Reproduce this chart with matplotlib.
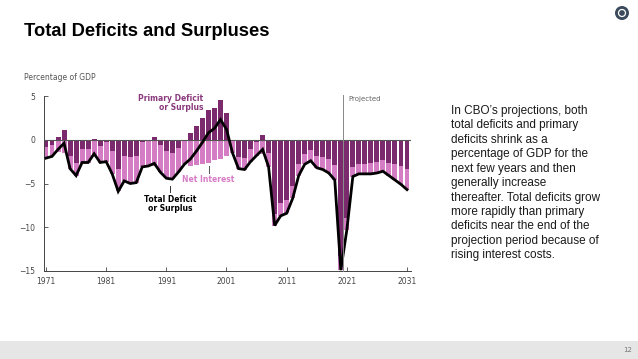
import matplotlib.pyplot as plt
from matplotlib.patches import Ellipse, Rectangle

years = list(range(1971, 2032))

# total deficit (-) or surplus (+), percent of GDP
total = [-2.1, -1.9, -1.1, -0.4, -3.3, -4.1, -2.6, -2.6, -1.6, -2.6,
         -2.5, -3.9, -5.9, -4.7, -5.0, -4.9, -3.1, -3.0, -2.7, -3.7,
         -4.4, -4.5, -3.7, -2.8, -2.2, -1.3, -0.3, 0.8, 1.3, 2.3,
         1.2, -1.5, -3.3, -3.4, -2.5, -1.8, -1.1, -3.1, -9.8, -8.7,
         -8.4, -6.7, -4.1, -2.8, -2.4, -3.2, -3.4, -3.8, -4.6, -14.9,
         -10.3, -4.2, -3.9, -3.9, -3.9, -3.8, -3.6, -4.1, -4.6, -5.1,
         -5.7]

# net interest, percent of GDP
net_interest = [1.3, 1.3, 1.4, 1.5, 1.5, 1.5, 1.5, 1.6, 1.7, 1.9,
                2.2, 2.6, 2.6, 2.9, 3.0, 3.0, 2.9, 2.9, 3.0, 3.1,
                3.1, 3.0, 2.8, 2.8, 3.0, 2.9, 2.8, 2.6, 2.3, 2.2,
                1.9, 1.5, 1.3, 1.3, 1.4, 1.6, 1.6, 1.6, 1.3, 1.5,
                1.5, 1.4, 1.3, 1.2, 1.2, 1.3, 1.4, 1.6, 1.7, 1.6,
                1.4, 1.1, 1.1, 1.1, 1.2, 1.3, 1.3, 1.5, 1.8, 2.1,
                2.4]

primary = [round(t + n, 2) for t, n in zip(total, net_interest)]
pink_bottom = [min(p, 0) for p in primary]

dark = "#7b2a6d"
pink = "#d47cc4"

fig = plt.figure(figsize=(6.38, 3.59), dpi=100)
fig.patch.set_facecolor("white")

fig.text(24 / 638, 1 - 32 / 359, "Total Deficits and Surpluses", fontsize=13.2,
         fontweight="heavy", family="Liberation Sans", va="center", ha="left")
fig.text(24 / 638, 1 - 77 / 359, "Percentage of GDP", fontsize=5.5,
         color="#555555", va="center", ha="left")

ax = fig.add_axes([43.6 / 638, 1 - 271 / 359, (410.6 - 43.6) / 638, (271 - 96) / 359])

ax.bar(years, primary, width=0.82, color=dark, linewidth=0, zorder=2)
ax.bar(years, [-n for n in net_interest], bottom=pink_bottom, width=0.82,
       color=pink, linewidth=0, zorder=2)
ax.axhline(0, color="#555555", lw=0.8, zorder=3)
ax.plot(years, total, color="black", lw=2.0, zorder=4, solid_joinstyle="miter",
        clip_on=False)

# projection marker
ax.plot([2020.4, 2020.4], [-15, 5.1], color="#888888", lw=0.7, zorder=5,
        clip_on=False)
ax.text(2021.3, 4.65, "Projected", fontsize=5, color="#666666", va="center")

# annotations
ax.text(1997.1, 5.2, "Primary Deficit\nor Surplus", fontsize=5.5, fontweight="bold",
        color="#8a3a7d", ha="right", va="top", linespacing=1.0)
ax.plot([1998.1, 1998.1], [-3.05, -3.75], color="#555555", lw=0.7, zorder=5)
ax.text(1997.9, -4.55, "Net Interest", fontsize=5.5, fontweight="bold",
        color="#d77cc6", ha="center", va="center")
ax.plot([1991.6, 1991.6], [-5.3, -6.0], color="#333333", lw=0.7, zorder=5)
ax.text(1991.6, -6.35, "Total Deficit\nor Surplus", fontsize=5.5, fontweight="bold",
        color="black", ha="center", va="top", linespacing=1.0)

ax.set_xlim(1970.6, 2031.6)
ax.set_ylim(-15, 5)
ax.set_xticks(range(1971, 2032, 10))
ax.set_yticks([5, 0, -5, -10, -15])
ax.set_yticklabels(["5", "0", "\u22125", "\u221210", "\u221215"])
ax.tick_params(axis="both", labelsize=5.5, colors="#444444", length=3,
               width=0.6, direction="in")
ax.tick_params(axis="y", pad=6)
ax.tick_params(axis="x", pad=4)
for side in ["top", "right"]:
    ax.spines[side].set_visible(False)
ax.spines["left"].set_color("#444444")
ax.spines["bottom"].set_color("#444444")
ax.spines["left"].set_linewidth(0.7)
ax.spines["bottom"].set_linewidth(0.7)
ax.set_facecolor("none")

note = ("In CBO\u2019s projections, both\n"
        "total deficits and primary\n"
        "deficits shrink as a\n"
        "percentage of GDP for the\n"
        "next few years and then\n"
        "generally increase\n"
        "thereafter. Total deficits grow\n"
        "more rapidly than primary\n"
        "deficits near the end of the\n"
        "projection period because of\n"
        "rising interest costs.")
fig.text(451 / 638, 1 - 105 / 359, note, fontsize=8.5, family="Liberation Sans",
         color="#1a1a1a", va="top", ha="left", linespacing=1.27)

# footer band and page number
fig.patches.append(Rectangle((0, 0), 1, 18 / 359, transform=fig.transFigure,
                             facecolor="#e6e6e6", edgecolor="none"))
fig.text(628 / 638, 9 / 359, "12", fontsize=5, color="#777777", ha="center",
         va="center")

# logo
fig.patches.append(Ellipse((622 / 638, 1 - 13 / 359), 14 / 638, 14 / 359,
                           transform=fig.transFigure, facecolor="#3b4a5c",
                           edgecolor="none"))
fig.patches.append(Ellipse((622 / 638, 1 - 13 / 359), 7 / 638, 7 / 359,
                           transform=fig.transFigure, facecolor="none",
                           edgecolor="white", lw=0.9))

fig.savefig("out.png", dpi=100)
